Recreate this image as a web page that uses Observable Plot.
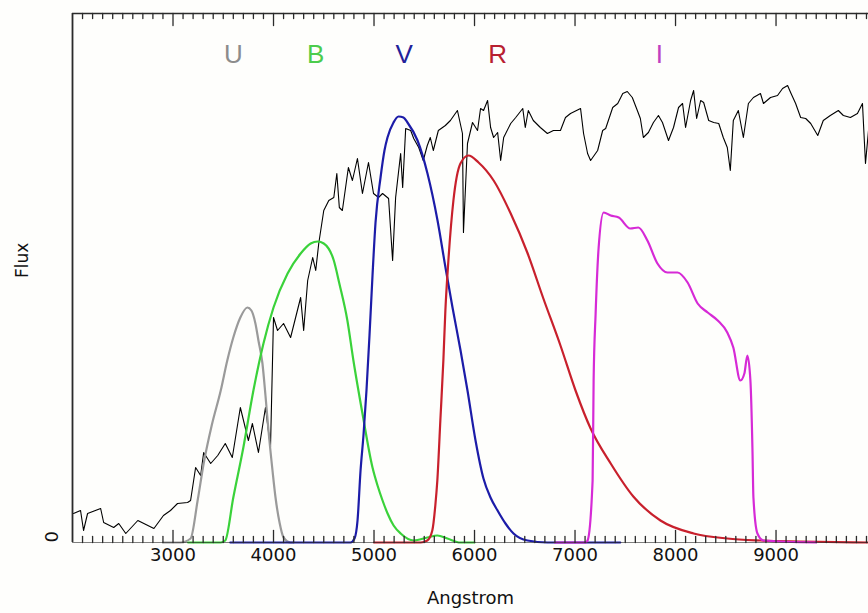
<!DOCTYPE html>
<html><head><meta charset="utf-8">
<script src="https://cdn.jsdelivr.net/npm/d3@7"></script>
<script src="https://cdn.jsdelivr.net/npm/@observablehq/plot@0.6"></script>
<style>body{margin:0;background:#fefefc}#chart svg{display:block}</style>
</head><body><div id="chart"></div>
<script>
// Galaxy spectrum (arbitrary flux units)
const specWave = [
  2010,2080,2110,2150,2280,2310,2410,2460,2530,2650,
  2710,2810,2905,2975,3045,3145,3175,3225,3275,3305,
  3375,3445,3520,3590,3670,3750,3790,3850,3920,3970,
  4000,4040,4100,4170,4270,4300,4340,4390,4420,4450,
  4500,4550,4600,4630,4655,4685,4745,4785,4835,4885,
  4945,4995,5045,5085,5145,5185,5215,5265,5285,5315,
  5365,5395,5445,5490,5530,5560,5590,5640,5710,5760,
  5830,5880,5890,5930,5980,6030,6060,6090,6130,6160,
  6190,6230,6260,6290,6360,6410,6480,6505,6535,6585,
  6655,6725,6785,6855,6905,6955,7055,7085,7125,7155,
  7225,7275,7305,7375,7425,7475,7520,7570,7620,7650,
  7680,7730,7780,7830,7870,7930,7980,8030,8070,8100,
  8150,8180,8210,8250,8280,8330,8380,8430,8475,8515,
  8545,8575,8625,8675,8725,8775,8845,8875,8945,9015,
  9065,9115,9145,9195,9245,9295,9345,9415,9470,9540,
  9620,9670,9740,9810,9860,9890,9920];
const specFlux = [
  29,32,12,29,34,20,15,19,9,22,
  19,14,27,32,39,40,42,75,67,90,
  79,87,99,85,135,102,119,90,135,95,
  225,212,219,205,245,212,262,285,272,299,
  332,342,345,369,335,332,375,362,384,349,
  380,349,345,349,344,282,345,389,355,414,
  412,404,395,382,397,405,392,412,417,422,
  432,409,310,399,420,412,434,432,442,415,
  405,410,382,405,419,425,434,415,432,422,
  415,409,412,412,425,429,434,409,389,382,
  392,412,414,435,439,449,451,445,432,424,
  405,410,420,427,420,402,415,435,439,415,
  442,452,424,442,440,422,420,419,405,395,
  372,422,432,405,439,445,449,439,445,447,
  454,457,450,439,425,424,419,407,422,427,
  432,427,425,429,439,379,412];

// Filter transmission curves (same arbitrary units)
const uWave = [2900,3075,3175,3245,3305,3385,3475,3540,3600,3670,3740,3780,3820,3850,3890,3920,3950,3990,4020,4060,4100,4170,4200];
const uFlux = [0,0,4,42,79,117,152,182,205,225,235,232,219,202,179,147,112,72,45,20,5,0,0];
const bWave = [3150,3475,3520,3600,3700,3800,3900,4000,4140,4270,4370,4440,4500,4600,4655,4735,4795,4885,4985,5035,5085,5135,5195,5265,5395,5530,5630,5730,5860,6000];
const bFlux = [0,0,2,45,95,152,199,235,269,289,299,301,299,282,259,222,182,129,75,57,42,29,17,9,2,5,7,4,0,0];
const vWave = [3570,4766,4806,4836,4866,4895,4925,4955,4985,5015,5065,5104,5134,5194,5244,5293,5333,5433,5532,5632,5711,5781,5861,5930,6010,6089,6159,6229,6308,6388,6527,6726,7450];
const vFlux = [0,0,4,22,72,107,152,207,267,320,365,392,405,420,426,425,420,402,369,322,275,235,192,152,102,64,45,32,19,9,2,0,0];
const rWave = [5000,5465,5530,5580,5610,5630,5660,5690,5710,5740,5790,5860,5940,6040,6190,6360,6525,6685,6855,7005,7155,7355,7580,7850,8180,8515,8845,9245,9920];
const rFlux = [0,0,2,12,37,62,122,182,232,282,342,379,387,380,362,329,290,244,197,152,114,79,46,22,9,4,2,1,0];
const iWave = [6800,7105,7125,7175,7185,7205,7235,7285,7355,7435,7550,7630,7720,7820,7920,8020,8120,8220,8320,8420,8515,8575,8645,8685,8715,8745,8765,8775,8815,8875,9400];
const iFlux = [0,0,2,62,162,229,295,330,327,325,314,315,302,279,270,270,260,239,230,222,210,195,162,169,187,162,95,45,9,2,0];

const bandNames = ["U","B","V","R","I"];
const bandCenters = [3600,4420,5300,6230,7840];
const bandColors = ["#9a9a9a","#3ad23a","#1c1ca8","#c8202c","#d62ad6"];
const labelColors = ["#8c8c8c","#4ccc4c","#22229a","#b82030","#c040c0"];

const majorTicks = [3000,4000,5000,6000,7000,8000,9000];
const minorTicks = d3.range(2100, 9901, 100).filter(d => d % 1000 !== 0);
const xDomain = [2000, 9920];
const yDomain = [0, 529];

const spectrum = specWave.map((w,i) => ({w, f: specFlux[i]}));
const bands = [[uWave,uFlux],[bWave,bFlux],[vWave,vFlux],[rWave,rFlux],[iWave,iFlux]]
  .map(([ws,fs],k) => ws.map((w,i) => ({w, f: fs[i], band: bandNames[k]})));

const tickShape = {draw(ctx, l){ ctx.moveTo(0,0); ctx.lineTo(0,-l); }};
const axisColor = "#2a2a2a";
const tickMarks = (data, len, anchor, rotate) => Plot.vector(data, {
  x: d => d, frameAnchor: anchor, length: len, rotate, anchor: "start",
  shape: tickShape, stroke: axisColor, strokeWidth: 1.3
});

const chart = Plot.plot({
  width: 868, height: 613,
  marginLeft: 72, marginRight: 0, marginTop: 13, marginBottom: 71,
  x: {domain: xDomain, axis: null},
  y: {domain: yDomain, axis: null},
  style: {background: "#fefefc", fontFamily: "DejaVu Sans", color: "#111"},
  marks: [
    Plot.line(spectrum, {x: "w", y: "f", stroke: "#000", strokeWidth: 1.1}),
    ...bands.map((b,k) => Plot.line(b, {x: "w", y: "f", stroke: bandColors[k], strokeWidth: 2.2, curve: "monotone-x"})),
    Plot.ruleX([xDomain[0]], {stroke: axisColor, strokeWidth: 1.8}),
    Plot.ruleY([yDomain[0]], {stroke: axisColor, strokeWidth: 1.2, strokeOpacity: 0.6}),
    Plot.ruleY([yDomain[1]], {stroke: axisColor, strokeWidth: 1.6}),
    tickMarks(minorTicks, 6, "bottom", 0),
    tickMarks(majorTicks, 12, "bottom", 0),
    tickMarks(minorTicks, 5, "top", 180),
    tickMarks(majorTicks, 12, "top", 180),
    Plot.text(majorTicks, {x: d => d, text: d => String(d), frameAnchor: "bottom", dy: 18, fontSize: 18, fill: "#111"}),
    Plot.text([0], {y: d => d, text: d => String(d), frameAnchor: "left", dx: -20, rotate: -90, fontSize: 18, fill: "#111"}),
    Plot.text(["Flux"], {frameAnchor: "left", dx: -50, rotate: -90, fontSize: 17, fill: "#111", text: d => d}),
    Plot.text(["Angstrom"], {frameAnchor: "bottom", dy: 61, fontSize: 18, fill: "#111", text: d => d}),
    Plot.text(bandNames, {x: (d,i) => bandCenters[i], text: d => d, frameAnchor: "top", dy: 31,
      fontSize: 26, fontFamily: "Liberation Sans", fill: (d,i) => labelColors[i]})
  ]
});
document.getElementById("chart").append(chart);
</script>
</body></html>
